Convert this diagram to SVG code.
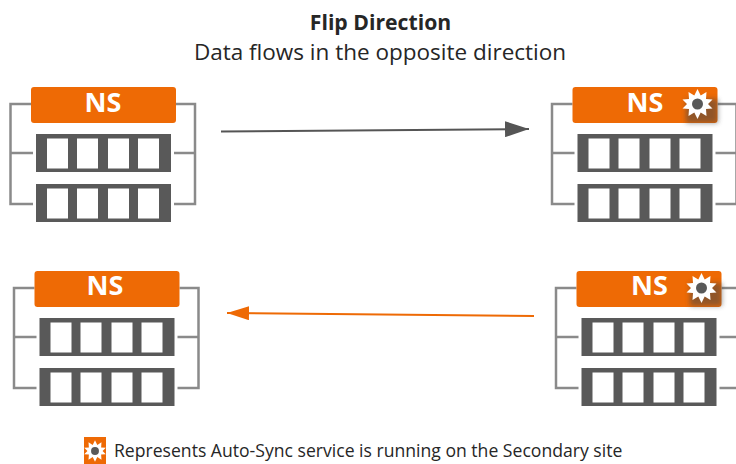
<svg xmlns="http://www.w3.org/2000/svg" width="736" height="464" viewBox="0 0 736 464">
<defs>
<style>
.t{font-family:"Open Sans","Noto Sans","DejaVu Sans",sans-serif;fill:#262626}
.ns{font-family:"Open Sans","Noto Sans",sans-serif;font-weight:700;font-size:27px;fill:#fff;text-anchor:middle}
.org{fill:#ee6a05}
.row{fill:#595959}
.cell{fill:#fff}
.br{fill:none;stroke:#8a8a8a;stroke-width:2.5}
</style>
<filter id="sh" x="-60%" y="-60%" width="220%" height="220%"><feGaussianBlur stdDeviation="2.5"/></filter>
<marker id="ag" markerUnits="userSpaceOnUse" markerWidth="25" markerHeight="16" refX="24" refY="8" orient="auto"><path d="M0 0L24 8L0 16Z" fill="#555"/></marker>
<marker id="ao" markerUnits="userSpaceOnUse" markerWidth="23" markerHeight="14" refX="22" refY="7" orient="auto"><path d="M0 0L22 7L0 14Z" fill="#ee6a05"/></marker>
<g id="stack">
<path class="br" d="M31 104H10.500V204H33M10.500 153H33M176 104H195V204H174M195 153H174"/>
<rect class="org" x="31" y="87" width="145" height="36" rx="3"/>
<g id="r"><rect class="row" x="36" y="134" width="135" height="38"/>
<rect class="cell" x="47" y="138.500" width="21" height="30"/><rect class="cell" x="77" y="138.500" width="21" height="30"/><rect class="cell" x="108" y="138.500" width="21" height="30"/><rect class="cell" x="138" y="138.500" width="21" height="30"/></g>
<use href="#r" y="50"/>
</g>
<g id="gear">
<path fill="#fff" d="M0-15L3.200-8.500L9-12L8.500-5L15-4.500L10.500 0L15 4.500L8.500 5L9 12L3.200 8.500L0 15L-3.200 8.500L-9 12L-8.500 5L-15 4.500L-10.500 0L-15-4.500L-8.500-5L-9-12L-3.200-8.500Z"/>
<circle r="5.500" fill="#595959"/>
</g>
</defs>
<rect width="736" height="464" fill="#fff"/>
<text class="t" x="380.500" y="29.500" font-size="21.200" font-weight="700" text-anchor="middle">Flip Direction</text>
<text class="t" x="380" y="60" font-size="22.500" text-anchor="middle">Data flows in the opposite direction</text>
<g id="connectors" fill="none" stroke-width="2">
<path d="M221 131.500L529 129" stroke="#555" marker-end="url(#ag)"/>
<path d="M534 316L227 313" stroke="#ee6a05" marker-end="url(#ao)"/>
</g>
<g id="node-top-left"><use href="#stack"/><text class="ns" x="103" y="112">NS</text></g>
<g id="node-top-right"><use href="#stack" x="541.500"/>
<rect x="686" y="99" width="32" height="24" fill="#444" opacity=".55" filter="url(#sh)"/>
<text class="ns" x="645" y="112">NS</text><use href="#gear" x="697.500" y="104"/></g>
<g id="node-bottom-left"><use href="#stack" x="3.500" y="184"/><text class="ns" x="105" y="295">NS</text></g>
<g id="node-bottom-right"><use href="#stack" x="545.500" y="184"/>
<rect x="690" y="283" width="32" height="23" fill="#444" opacity=".55" filter="url(#sh)"/>
<text class="ns" x="649.500" y="295">NS</text><use href="#gear" x="701.500" y="288"/></g>
<g id="legend"><rect class="org" x="84" y="437" width="22" height="27"/><use href="#gear" transform="translate(95 451) scale(.72)"/>
<text class="t" x="114" y="457" font-size="17.600">Represents Auto-Sync service is running on the Secondary site</text></g>
</svg>
